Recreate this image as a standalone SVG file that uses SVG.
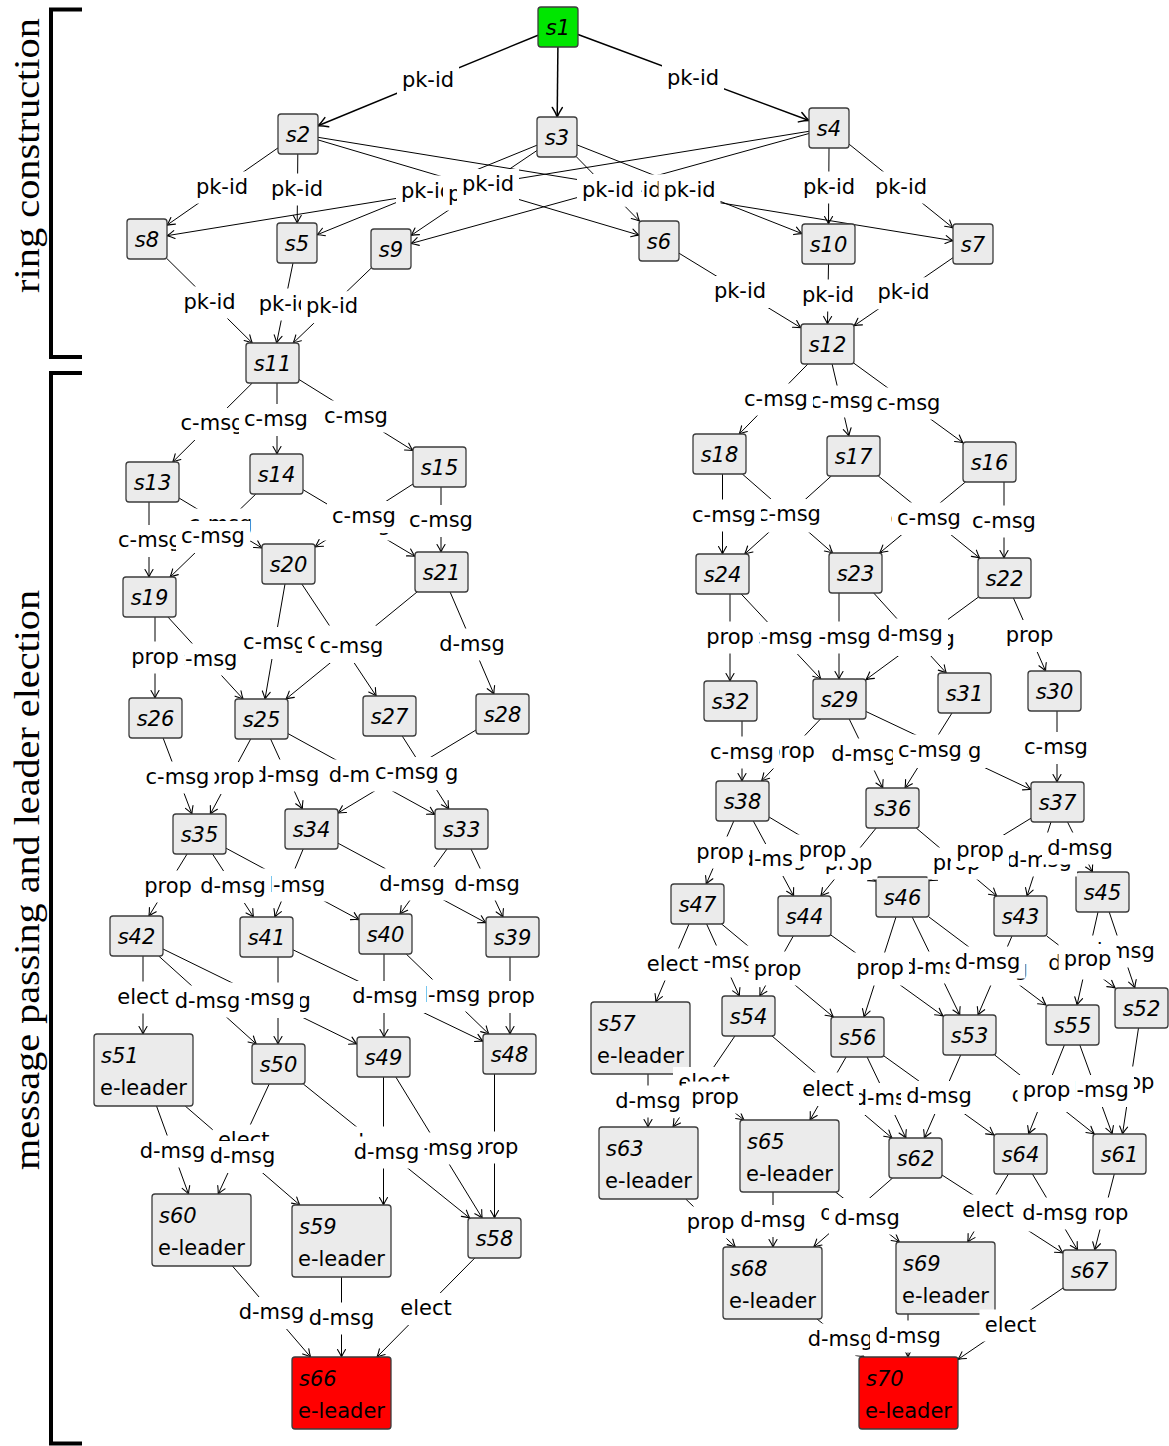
<svg xmlns="http://www.w3.org/2000/svg" width="1169" height="1446" viewBox="0 0 1169 1446">
<defs>
<style>
.n rect{fill:#ebebeb;stroke:#3c3c3c;stroke-width:1.3}
.n.g rect{fill:#00e600}
.n.r rect{fill:#ff0000}
.n text{font-family:"DejaVu Sans",sans-serif;font-size:21px;font-style:italic;text-anchor:middle;fill:#000}
.n text.a{text-anchor:start}
.n text.b{text-anchor:start;font-style:normal}
#connectors line{stroke:#000;stroke-width:1;fill:none;marker-end:url(#a)}
#connectors line.t{stroke-width:1.5;marker-end:url(#b)}
#labels rect{fill:#fff}
#labels text{font-family:"DejaVu Sans",sans-serif;font-size:21px;text-anchor:middle;fill:#000}
#labels rect.pk{width:62px;height:32px}
#labels rect.c{width:74px;height:32px}
#labels rect.d{width:76px;height:32px}
#labels rect.p{width:58px;height:32px}
#labels rect.e{width:62px;height:32px}
.side{font-family:"Liberation Serif",serif;font-size:35px;text-anchor:middle}
</style>
<marker id="a" viewBox="-10 -6 12 12" refX="0" refY="0" markerWidth="12" markerHeight="12" markerUnits="userSpaceOnUse" orient="auto"><path d="M-7.5,-4 Q-3,-1.2 0,0 Q-3,1.2 -7.5,4" fill="none" stroke="#000" stroke-width="1.1" stroke-linecap="round"/></marker>
<marker id="b" viewBox="-12 -7 14 14" refX="0" refY="0" markerWidth="14" markerHeight="14" markerUnits="userSpaceOnUse" orient="auto"><path d="M-9.5,-5 Q-4,-1.5 0,0 Q-4,1.5 -9.5,5" fill="none" stroke="#000" stroke-width="1.5" stroke-linecap="round"/></marker>
</defs>
<rect width="1169" height="1446" fill="#fff"/>
<g id="brackets" fill="none" stroke="#000" stroke-width="4">
<path d="M82,9.5 H51 V357 H82"/>
<path d="M82,373 H51 V1443.5 H82"/>
</g>
<text class="side" transform="translate(39,155.5) rotate(-90)" textLength="275" lengthAdjust="spacingAndGlyphs">ring construction</text>
<text class="side" transform="translate(39,880) rotate(-90)" textLength="580" lengthAdjust="spacingAndGlyphs">message passing and leader election</text>
<g id="connectors">
<line class="t" x1="538" y1="35.2" x2="318" y2="125.8"/>
<line class="t" x1="557.9" y1="47" x2="557.2" y2="117"/>
<line class="t" x1="578" y1="34.5" x2="809" y2="120.5"/>
<line x1="278" y1="147.9" x2="167" y2="225.1"/>
<line x1="297.8" y1="154" x2="297.2" y2="223"/>
<line x1="318" y1="139.9" x2="639" y2="235.1"/>
<line x1="318" y1="137.3" x2="953" y2="240.7"/>
<line x1="537" y1="145.2" x2="317" y2="234.8"/>
<line x1="537" y1="150.5" x2="411" y2="235.5"/>
<line x1="576.6" y1="157" x2="639.4" y2="221"/>
<line x1="577" y1="144.9" x2="802" y2="233.6"/>
<line x1="809" y1="131.3" x2="167" y2="235.7"/>
<line x1="809" y1="133.5" x2="411" y2="243.5"/>
<line x1="829" y1="148" x2="828.5" y2="224"/>
<line x1="849" y1="144.1" x2="953" y2="227.9"/>
<line x1="167" y1="258.7" x2="252.3" y2="343"/>
<line x1="293" y1="263" x2="276.6" y2="343"/>
<line x1="371" y1="268.3" x2="293.2" y2="343"/>
<line x1="679" y1="253.2" x2="801" y2="327.8"/>
<line x1="828.5" y1="264" x2="827.5" y2="324"/>
<line x1="953" y1="257.7" x2="854" y2="325.8"/>
<line x1="252.3" y1="383" x2="172.7" y2="462"/>
<line x1="277" y1="383" x2="277" y2="454"/>
<line x1="299" y1="379.5" x2="413" y2="450.5"/>
<line x1="149" y1="502" x2="149" y2="577"/>
<line x1="179" y1="498" x2="262" y2="548"/>
<line x1="255.9" y1="494" x2="170.1" y2="577"/>
<line x1="303" y1="489.7" x2="415" y2="556.3"/>
<line x1="413" y1="484" x2="315" y2="547"/>
<line x1="441" y1="487" x2="441" y2="552"/>
<line x1="155" y1="617" x2="155" y2="698"/>
<line x1="167.9" y1="617" x2="243.1" y2="699"/>
<line x1="285" y1="584" x2="265" y2="699"/>
<line x1="301.8" y1="584" x2="376.2" y2="696"/>
<line x1="417" y1="592" x2="286" y2="699"/>
<line x1="450.1" y1="592" x2="493.9" y2="694"/>
<line x1="163.1" y1="738" x2="191.9" y2="814"/>
<line x1="250.7" y1="739" x2="210.3" y2="814"/>
<line x1="270.6" y1="739" x2="302.4" y2="809"/>
<line x1="288" y1="733.6" x2="435" y2="814.4"/>
<line x1="402.2" y1="736" x2="448.8" y2="809"/>
<line x1="476" y1="730" x2="338" y2="813"/>
<line x1="187.1" y1="854" x2="148.9" y2="916"/>
<line x1="212.5" y1="854" x2="253.5" y2="917"/>
<line x1="226" y1="848.2" x2="359" y2="919.7"/>
<line x1="303.2" y1="849" x2="274.8" y2="917"/>
<line x1="338" y1="843.2" x2="486" y2="922.8"/>
<line x1="447" y1="849" x2="400" y2="914"/>
<line x1="471" y1="849" x2="503" y2="917"/>
<line x1="143" y1="956" x2="143" y2="1034"/>
<line x1="158.7" y1="956" x2="256.3" y2="1044"/>
<line x1="163" y1="949" x2="357" y2="1044"/>
<line x1="278" y1="957" x2="278" y2="1044"/>
<line x1="293" y1="949.8" x2="483" y2="1041.2"/>
<line x1="384" y1="954" x2="384" y2="1037"/>
<line x1="406.2" y1="954" x2="488.8" y2="1034"/>
<line x1="510" y1="957" x2="510" y2="1034"/>
<line x1="156.5" y1="1106" x2="188.5" y2="1194"/>
<line x1="185.2" y1="1106" x2="299.8" y2="1205"/>
<line x1="269.2" y1="1084" x2="218.2" y2="1194"/>
<line x1="303.3" y1="1084" x2="469.7" y2="1218"/>
<line x1="383.5" y1="1077" x2="383.5" y2="1205"/>
<line x1="395.8" y1="1077" x2="482.2" y2="1218"/>
<line x1="494.5" y1="1074" x2="494.5" y2="1218"/>
<line x1="232.4" y1="1266" x2="310.6" y2="1357"/>
<line x1="341.5" y1="1277" x2="341.5" y2="1357"/>
<line x1="474.8" y1="1258" x2="377" y2="1357"/>
<line x1="807.9" y1="364" x2="739.2" y2="434"/>
<line x1="832.1" y1="364" x2="848.9" y2="436"/>
<line x1="854" y1="363.3" x2="963" y2="442.7"/>
<line x1="722.5" y1="474" x2="722.5" y2="554"/>
<line x1="742.3" y1="474" x2="832.7" y2="553"/>
<line x1="831.3" y1="476" x2="744.7" y2="554"/>
<line x1="878.3" y1="476" x2="979.7" y2="558"/>
<line x1="965.4" y1="482" x2="879.6" y2="553"/>
<line x1="1004" y1="482" x2="1004" y2="558"/>
<line x1="730" y1="594" x2="730" y2="681"/>
<line x1="741.2" y1="594" x2="820.8" y2="679"/>
<line x1="839" y1="593" x2="839" y2="679"/>
<line x1="873.7" y1="593" x2="946.3" y2="673"/>
<line x1="978" y1="597.4" x2="866" y2="679.6"/>
<line x1="1013.4" y1="598" x2="1045.6" y2="671"/>
<line x1="742" y1="721" x2="742" y2="781"/>
<line x1="820.5" y1="719" x2="761.5" y2="781"/>
<line x1="849.2" y1="719" x2="882.8" y2="788"/>
<line x1="866" y1="711.5" x2="1031" y2="789.5"/>
<line x1="952" y1="713" x2="905" y2="788"/>
<line x1="1057" y1="711" x2="1057" y2="782"/>
<line x1="733.8" y1="821" x2="706.2" y2="884"/>
<line x1="753.3" y1="821" x2="793.7" y2="896"/>
<line x1="769" y1="817" x2="876" y2="881.1"/>
<line x1="876.2" y1="828" x2="820.8" y2="896"/>
<line x1="916.2" y1="828" x2="996.8" y2="896"/>
<line x1="1031" y1="818.2" x2="929" y2="880.8"/>
<line x1="1051" y1="822" x2="1027" y2="896"/>
<line x1="1067.5" y1="822" x2="1092.5" y2="872"/>
<line x1="689" y1="924" x2="655.8" y2="1002"/>
<line x1="706.6" y1="924" x2="739.4" y2="996"/>
<line x1="721.6" y1="924" x2="833.4" y2="1017"/>
<line x1="793.3" y1="936" x2="759.7" y2="996"/>
<line x1="831" y1="935.1" x2="943" y2="1015.9"/>
<line x1="896" y1="917" x2="864" y2="1017"/>
<line x1="912.2" y1="917" x2="959.8" y2="1015"/>
<line x1="929" y1="917" x2="1046" y2="1005"/>
<line x1="1012" y1="936" x2="978" y2="1015"/>
<line x1="1046.7" y1="936" x2="1115.2" y2="988"/>
<line x1="1098" y1="912" x2="1077" y2="1005"/>
<line x1="1109.2" y1="912" x2="1134.8" y2="988"/>
<line x1="648" y1="1074" x2="648" y2="1127"/>
<line x1="686" y1="1074" x2="744" y2="1120"/>
<line x1="734.9" y1="1036" x2="673" y2="1127"/>
<line x1="772" y1="1036" x2="892" y2="1138"/>
<line x1="846.1" y1="1057" x2="810" y2="1120"/>
<line x1="867.1" y1="1057" x2="905.9" y2="1138"/>
<line x1="884" y1="1056" x2="994" y2="1135"/>
<line x1="960.7" y1="1055" x2="924.3" y2="1138"/>
<line x1="994.7" y1="1055" x2="1094.3" y2="1134"/>
<line x1="1064.4" y1="1045" x2="1028.6" y2="1134"/>
<line x1="1079.8" y1="1045" x2="1112.2" y2="1134"/>
<line x1="1138.5" y1="1028" x2="1122.5" y2="1134"/>
<line x1="685.7" y1="1199" x2="735.3" y2="1247"/>
<line x1="773" y1="1192" x2="773" y2="1247"/>
<line x1="892.6" y1="1178" x2="813.7" y2="1247"/>
<line x1="835.5" y1="1192" x2="899.5" y2="1242"/>
<line x1="1008.4" y1="1174" x2="967.7" y2="1242"/>
<line x1="942" y1="1175" x2="1063" y2="1253"/>
<line x1="1032.4" y1="1174" x2="1077.6" y2="1250"/>
<line x1="1114.3" y1="1174" x2="1094.7" y2="1250"/>
<line x1="817" y1="1319" x2="864" y2="1357"/>
<line x1="908" y1="1313" x2="908" y2="1357"/>
<line x1="1063" y1="1288" x2="958" y2="1359.4"/>
</g>
<g id="nodes">
<g id="s1" class="n g"><rect x="538" y="7" width="40" height="40" rx="3"/><text x="558" y="35">s1</text></g>
<g id="s2" class="n"><rect x="278" y="114" width="40" height="40" rx="3"/><text x="298" y="142">s2</text></g>
<g id="s3" class="n"><rect x="537" y="117" width="40" height="40" rx="3"/><text x="557" y="145">s3</text></g>
<g id="s4" class="n"><rect x="809" y="108" width="40" height="40" rx="3"/><text x="829" y="136">s4</text></g>
<g id="s8" class="n"><rect x="127" y="219" width="40" height="40" rx="3"/><text x="147" y="247">s8</text></g>
<g id="s5" class="n"><rect x="277" y="223" width="40" height="40" rx="3"/><text x="297" y="251">s5</text></g>
<g id="s9" class="n"><rect x="371" y="229" width="40" height="40" rx="3"/><text x="391" y="257">s9</text></g>
<g id="s6" class="n"><rect x="639" y="221" width="40" height="40" rx="3"/><text x="659" y="249">s6</text></g>
<g id="s10" class="n"><rect x="802" y="224" width="53" height="40" rx="3"/><text x="828.5" y="252">s10</text></g>
<g id="s7" class="n"><rect x="953" y="224" width="40" height="40" rx="3"/><text x="973" y="252">s7</text></g>
<g id="s11" class="n"><rect x="246" y="343" width="53" height="40" rx="3"/><text x="272.5" y="371">s11</text></g>
<g id="s12" class="n"><rect x="801" y="324" width="53" height="40" rx="3"/><text x="827.5" y="352">s12</text></g>
<g id="s13" class="n"><rect x="126" y="462" width="53" height="40" rx="3"/><text x="152.5" y="490">s13</text></g>
<g id="s14" class="n"><rect x="250" y="454" width="53" height="40" rx="3"/><text x="276.5" y="482">s14</text></g>
<g id="s15" class="n"><rect x="413" y="447" width="53" height="40" rx="3"/><text x="439.5" y="475">s15</text></g>
<g id="s20" class="n"><rect x="262" y="544" width="53" height="40" rx="3"/><text x="288.5" y="572">s20</text></g>
<g id="s21" class="n"><rect x="415" y="552" width="53" height="40" rx="3"/><text x="441.5" y="580">s21</text></g>
<g id="s19" class="n"><rect x="123" y="577" width="53" height="40" rx="3"/><text x="149.5" y="605">s19</text></g>
<g id="s26" class="n"><rect x="129" y="698" width="53" height="40" rx="3"/><text x="155.5" y="726">s26</text></g>
<g id="s25" class="n"><rect x="235" y="699" width="53" height="40" rx="3"/><text x="261.5" y="727">s25</text></g>
<g id="s27" class="n"><rect x="363" y="696" width="53" height="40" rx="3"/><text x="389.5" y="724">s27</text></g>
<g id="s28" class="n"><rect x="476" y="694" width="53" height="40" rx="3"/><text x="502.5" y="722">s28</text></g>
<g id="s35" class="n"><rect x="173" y="814" width="53" height="40" rx="3"/><text x="199.5" y="842">s35</text></g>
<g id="s34" class="n"><rect x="285" y="809" width="53" height="40" rx="3"/><text x="311.5" y="837">s34</text></g>
<g id="s33" class="n"><rect x="435" y="809" width="53" height="40" rx="3"/><text x="461.5" y="837">s33</text></g>
<g id="s42" class="n"><rect x="110" y="916" width="53" height="40" rx="3"/><text x="136.5" y="944">s42</text></g>
<g id="s41" class="n"><rect x="240" y="917" width="53" height="40" rx="3"/><text x="266.5" y="945">s41</text></g>
<g id="s40" class="n"><rect x="359" y="914" width="53" height="40" rx="3"/><text x="385.5" y="942">s40</text></g>
<g id="s39" class="n"><rect x="486" y="917" width="53" height="40" rx="3"/><text x="512.5" y="945">s39</text></g>
<g id="s51" class="n"><rect x="94" y="1034" width="99" height="72" rx="3"/><text class="a" x="101" y="1063">s51</text><text class="b" x="100" y="1095">e-leader</text></g>
<g id="s50" class="n"><rect x="252" y="1044" width="53" height="40" rx="3"/><text x="278.5" y="1072">s50</text></g>
<g id="s49" class="n"><rect x="357" y="1037" width="53" height="40" rx="3"/><text x="383.5" y="1065">s49</text></g>
<g id="s48" class="n"><rect x="483" y="1034" width="53" height="40" rx="3"/><text x="509.5" y="1062">s48</text></g>
<g id="s60" class="n"><rect x="152" y="1194" width="99" height="72" rx="3"/><text class="a" x="159" y="1223">s60</text><text class="b" x="158" y="1255">e-leader</text></g>
<g id="s59" class="n"><rect x="292" y="1205" width="99" height="72" rx="3"/><text class="a" x="299" y="1234">s59</text><text class="b" x="298" y="1266">e-leader</text></g>
<g id="s58" class="n"><rect x="468" y="1218" width="53" height="40" rx="3"/><text x="494.5" y="1246">s58</text></g>
<g id="s66" class="n r"><rect x="292" y="1357" width="99" height="72" rx="3"/><text class="a" x="299" y="1386">s66</text><text class="b" x="298" y="1418">e-leader</text></g>
<g id="s18" class="n"><rect x="693" y="434" width="53" height="40" rx="3"/><text x="719.5" y="462">s18</text></g>
<g id="s17" class="n"><rect x="827" y="436" width="53" height="40" rx="3"/><text x="853.5" y="464">s17</text></g>
<g id="s16" class="n"><rect x="963" y="442" width="53" height="40" rx="3"/><text x="989.5" y="470">s16</text></g>
<g id="s24" class="n"><rect x="696" y="554" width="53" height="40" rx="3"/><text x="722.5" y="582">s24</text></g>
<g id="s23" class="n"><rect x="829" y="553" width="53" height="40" rx="3"/><text x="855.5" y="581">s23</text></g>
<g id="s22" class="n"><rect x="978" y="558" width="53" height="40" rx="3"/><text x="1004.5" y="586">s22</text></g>
<g id="s32" class="n"><rect x="704" y="681" width="53" height="40" rx="3"/><text x="730.5" y="709">s32</text></g>
<g id="s29" class="n"><rect x="813" y="679" width="53" height="40" rx="3"/><text x="839.5" y="707">s29</text></g>
<g id="s31" class="n"><rect x="938" y="673" width="53" height="40" rx="3"/><text x="964.5" y="701">s31</text></g>
<g id="s30" class="n"><rect x="1028" y="671" width="53" height="40" rx="3"/><text x="1054.5" y="699">s30</text></g>
<g id="s38" class="n"><rect x="716" y="781" width="53" height="40" rx="3"/><text x="742.5" y="809">s38</text></g>
<g id="s36" class="n"><rect x="866" y="788" width="53" height="40" rx="3"/><text x="892.5" y="816">s36</text></g>
<g id="s37" class="n"><rect x="1031" y="782" width="53" height="40" rx="3"/><text x="1057.5" y="810">s37</text></g>
<g id="s47" class="n"><rect x="671" y="884" width="53" height="40" rx="3"/><text x="697.5" y="912">s47</text></g>
<g id="s44" class="n"><rect x="778" y="896" width="53" height="40" rx="3"/><text x="804.5" y="924">s44</text></g>
<g id="s46" class="n"><rect x="876" y="877" width="53" height="40" rx="3"/><text x="902.5" y="905">s46</text></g>
<g id="s43" class="n"><rect x="994" y="896" width="53" height="40" rx="3"/><text x="1020.5" y="924">s43</text></g>
<g id="s45" class="n"><rect x="1076" y="872" width="53" height="40" rx="3"/><text x="1102.5" y="900">s45</text></g>
<g id="s57" class="n"><rect x="591" y="1002" width="99" height="72" rx="3"/><text class="a" x="598" y="1031">s57</text><text class="b" x="597" y="1063">e-leader</text></g>
<g id="s54" class="n"><rect x="722" y="996" width="53" height="40" rx="3"/><text x="748.5" y="1024">s54</text></g>
<g id="s56" class="n"><rect x="831" y="1017" width="53" height="40" rx="3"/><text x="857.5" y="1045">s56</text></g>
<g id="s53" class="n"><rect x="943" y="1015" width="53" height="40" rx="3"/><text x="969.5" y="1043">s53</text></g>
<g id="s55" class="n"><rect x="1046" y="1005" width="53" height="40" rx="3"/><text x="1072.5" y="1033">s55</text></g>
<g id="s52" class="n"><rect x="1115" y="988" width="53" height="40" rx="3"/><text x="1141.5" y="1016">s52</text></g>
<g id="s63" class="n"><rect x="599" y="1127" width="99" height="72" rx="3"/><text class="a" x="606" y="1156">s63</text><text class="b" x="605" y="1188">e-leader</text></g>
<g id="s65" class="n"><rect x="740" y="1120" width="99" height="72" rx="3"/><text class="a" x="747" y="1149">s65</text><text class="b" x="746" y="1181">e-leader</text></g>
<g id="s62" class="n"><rect x="889" y="1138" width="53" height="40" rx="3"/><text x="915.5" y="1166">s62</text></g>
<g id="s64" class="n"><rect x="994" y="1134" width="53" height="40" rx="3"/><text x="1020.5" y="1162">s64</text></g>
<g id="s61" class="n"><rect x="1093" y="1134" width="53" height="40" rx="3"/><text x="1119.5" y="1162">s61</text></g>
<g id="s68" class="n"><rect x="723" y="1247" width="99" height="72" rx="3"/><text class="a" x="730" y="1276">s68</text><text class="b" x="729" y="1308">e-leader</text></g>
<g id="s69" class="n"><rect x="896" y="1242" width="99" height="72" rx="3"/><text class="a" x="903" y="1271">s69</text><text class="b" x="902" y="1303">e-leader</text></g>
<g id="s67" class="n"><rect x="1063" y="1250" width="53" height="40" rx="3"/><text x="1089.5" y="1278">s67</text></g>
<g id="s70" class="n r"><rect x="859" y="1357" width="99" height="72" rx="3"/><text class="a" x="866" y="1386">s70</text><text class="b" x="865" y="1418">e-leader</text></g>
</g>
<g id="labels">
<rect class="pk" x="447.5" y="173"/><text x="478.5" y="195">pk-id</text>
<rect class="pk" x="604.5" y="174.5"/><text x="635.5" y="196.5">pk-id</text>
<rect class="pk" x="396" y="175.5"/><text x="427" y="197.5">pk-id</text>
<rect class="pk" x="443" y="178.5"/><text x="474" y="200.5">pk-id</text>
<rect class="pk" x="457" y="169"/><text x="488" y="191">pk-id</text>
<rect class="pk" x="579" y="174"/><text x="610" y="196">pk-id</text>
<rect class="pk" x="577" y="174.5"/><text x="608" y="196.5">pk-id</text>
<rect class="pk" x="658.5" y="174.5"/><text x="689.5" y="196.5">pk-id</text>
<rect class="pk" x="397" y="64.5"/><text x="428" y="86.5">pk-id</text>
<rect class="pk" x="662" y="62.5"/><text x="693" y="84.5">pk-id</text>
<rect class="pk" x="191" y="171.5"/><text x="222" y="193.5">pk-id</text>
<rect class="pk" x="266" y="173.5"/><text x="297" y="195.5">pk-id</text>
<rect class="pk" x="798" y="171.5"/><text x="829" y="193.5">pk-id</text>
<rect class="pk" x="870" y="171.5"/><text x="901" y="193.5">pk-id</text>
<rect class="pk" x="178.6" y="286.5"/><text x="209.6" y="308.5">pk-id</text>
<rect class="pk" x="253.8" y="288.5"/><text x="284.8" y="310.5">pk-id</text>
<rect class="pk" x="301" y="291.2"/><text x="332" y="313.2">pk-id</text>
<rect class="pk" x="709" y="276"/><text x="740" y="298">pk-id</text>
<rect class="pk" x="797" y="279.5"/><text x="828" y="301.5">pk-id</text>
<rect class="pk" x="872.5" y="277.3"/><text x="903.5" y="299.3">pk-id</text>
<rect class="c" x="175.5" y="408"/><text x="212.5" y="430">c-msg</text>
<rect class="c" x="239" y="404"/><text x="276" y="426">c-msg</text>
<rect class="c" x="319" y="400.5"/><text x="356" y="422.5">c-msg</text>
<rect class="c" x="183.5" y="508.5"/><text x="220.5" y="530.5">c-msg</text>
<rect class="c" x="113" y="525"/><text x="150" y="547">c-msg</text>
<rect class="c" x="176" y="521"/><text x="213" y="543">c-msg</text>
<rect class="c" x="322" y="508.5"/><text x="359" y="530.5">c-msg</text>
<rect class="c" x="327" y="501"/><text x="364" y="523">c-msg</text>
<rect class="c" x="404" y="505"/><text x="441" y="527">c-msg</text>
<rect class="c" x="168.5" y="643.5"/><text x="205.5" y="665.5">c-msg</text>
<rect class="p" x="126" y="641.5"/><text x="155" y="663.5">prop</text>
<rect class="c" x="238" y="627"/><text x="275" y="649">c-msg</text>
<rect class="c" x="302" y="625.5"/><text x="339" y="647.5">c-msg</text>
<rect class="c" x="314.5" y="631"/><text x="351.5" y="653">c-msg</text>
<rect class="d" x="434" y="628.5"/><text x="472" y="650.5">d-msg</text>
<rect class="d" x="248.5" y="759.5"/><text x="286.5" y="781.5">d-msg</text>
<rect class="p" x="201.5" y="762"/><text x="230.5" y="784">prop</text>
<rect class="c" x="140.5" y="761.5"/><text x="177.5" y="783.5">c-msg</text>
<rect class="d" x="323.5" y="759.5"/><text x="361.5" y="781.5">d-msg</text>
<rect class="d" x="387.5" y="758"/><text x="425.5" y="780">d-msg</text>
<rect class="c" x="370" y="757"/><text x="407" y="779">c-msg</text>
<rect class="d" x="251" y="868.5"/><text x="289" y="890.5">d-msg</text>
<rect class="d" x="254.5" y="869.5"/><text x="292.5" y="891.5">d-msg</text>
<rect class="d" x="195" y="871"/><text x="233" y="893">d-msg</text>
<rect class="p" x="139" y="870.5"/><text x="168" y="892.5">prop</text>
<rect class="d" x="385.5" y="867"/><text x="423.5" y="889">d-msg</text>
<rect class="d" x="374" y="868.5"/><text x="412" y="890.5">d-msg</text>
<rect class="d" x="449" y="868.5"/><text x="487" y="890.5">d-msg</text>
<rect class="d" x="240" y="986"/><text x="278" y="1008">d-msg</text>
<rect class="d" x="224" y="982.5"/><text x="262" y="1004.5">d-msg</text>
<rect class="d" x="169.5" y="985.5"/><text x="207.5" y="1007.5">d-msg</text>
<rect class="e" x="112" y="981.5"/><text x="143" y="1003.5">elect</text>
<rect class="d" x="409.5" y="979.5"/><text x="447.5" y="1001.5">d-msg</text>
<rect class="d" x="350" y="981"/><text x="388" y="1003">d-msg</text>
<rect class="d" x="347" y="981"/><text x="385" y="1003">d-msg</text>
<rect class="p" x="482" y="981"/><text x="511" y="1003">prop</text>
<rect class="d" x="134.5" y="1135.5"/><text x="172.5" y="1157.5">d-msg</text>
<rect class="e" x="212.7" y="1124.5"/><text x="243.7" y="1146.5">elect</text>
<rect class="d" x="204.5" y="1141"/><text x="242.5" y="1163">d-msg</text>
<rect class="p" x="465.5" y="1131.5"/><text x="494.5" y="1153.5">prop</text>
<rect class="d" x="402" y="1132.5"/><text x="440" y="1154.5">d-msg</text>
<rect class="d" x="345.5" y="1126.5"/><text x="383.5" y="1148.5">d-msg</text>
<rect class="d" x="348.5" y="1136.5"/><text x="386.5" y="1158.5">d-msg</text>
<rect class="d" x="233.5" y="1297"/><text x="271.5" y="1319">d-msg</text>
<rect class="d" x="303.5" y="1302.5"/><text x="341.5" y="1324.5">d-msg</text>
<rect class="e" x="395" y="1293"/><text x="426" y="1315">elect</text>
<rect class="c" x="805" y="385.5"/><text x="842" y="407.5">c-msg</text>
<rect class="c" x="739" y="383.5"/><text x="776" y="405.5">c-msg</text>
<rect class="c" x="871.5" y="387.5"/><text x="908.5" y="409.5">c-msg</text>
<rect class="c" x="752" y="500.5"/><text x="789" y="522.5">c-msg</text>
<rect class="c" x="752" y="499"/><text x="789" y="521">c-msg</text>
<rect class="c" x="687" y="499.5"/><text x="724" y="521.5">c-msg</text>
<rect class="c" x="885.5" y="503"/><text x="922.5" y="525">c-msg</text>
<rect class="c" x="892" y="502.5"/><text x="929" y="524.5">c-msg</text>
<rect class="c" x="967" y="505.5"/><text x="1004" y="527.5">c-msg</text>
<rect class="c" x="802" y="621.5"/><text x="839" y="643.5">c-msg</text>
<rect class="c" x="744" y="622"/><text x="781" y="644">c-msg</text>
<rect class="p" x="701" y="621.5"/><text x="730" y="643.5">prop</text>
<rect class="d" x="884" y="624"/><text x="922" y="646">d-msg</text>
<rect class="d" x="872" y="618.5"/><text x="910" y="640.5">d-msg</text>
<rect class="p" x="1000.5" y="620"/><text x="1029.5" y="642">prop</text>
<rect class="p" x="762" y="735.5"/><text x="791" y="757.5">prop</text>
<rect class="c" x="705" y="736.5"/><text x="742" y="758.5">c-msg</text>
<rect class="d" x="826" y="738.5"/><text x="864" y="760.5">d-msg</text>
<rect class="d" x="910.5" y="736"/><text x="948.5" y="758">d-msg</text>
<rect class="c" x="893" y="734.5"/><text x="930" y="756.5">c-msg</text>
<rect class="c" x="1019" y="732"/><text x="1056" y="754">c-msg</text>
<rect class="p" x="819.5" y="847.5"/><text x="848.5" y="869.5">prop</text>
<rect class="d" x="735.5" y="844"/><text x="773.5" y="866">d-msg</text>
<rect class="p" x="691" y="836.5"/><text x="720" y="858.5">prop</text>
<rect class="p" x="793.5" y="834.5"/><text x="822.5" y="856.5">prop</text>
<rect class="p" x="927.5" y="847.5"/><text x="956.5" y="869.5">prop</text>
<rect class="d" x="1001" y="844.5"/><text x="1039" y="866.5">d-msg</text>
<rect class="p" x="951" y="835"/><text x="980" y="857">prop</text>
<rect class="d" x="1042" y="832.5"/><text x="1080" y="854.5">d-msg</text>
<rect class="d" x="849" y="953.5"/><text x="887" y="975.5">d-msg</text>
<rect class="d" x="957" y="953.5"/><text x="995" y="975.5">d-msg</text>
<rect class="p" x="747.5" y="951.5"/><text x="776.5" y="973.5">prop</text>
<rect class="d" x="685" y="945.5"/><text x="723" y="967.5">d-msg</text>
<rect class="e" x="641.5" y="948.5"/><text x="672.5" y="970.5">elect</text>
<rect class="p" x="748.5" y="953.5"/><text x="777.5" y="975.5">prop</text>
<rect class="d" x="898" y="951.5"/><text x="936" y="973.5">d-msg</text>
<rect class="p" x="851" y="952.5"/><text x="880" y="974.5">prop</text>
<rect class="d" x="949.5" y="946.5"/><text x="987.5" y="968.5">d-msg</text>
<rect class="d" x="1043" y="947.5"/><text x="1081" y="969.5">d-msg</text>
<rect class="d" x="1084" y="935.5"/><text x="1122" y="957.5">d-msg</text>
<rect class="p" x="1058.5" y="944"/><text x="1087.5" y="966">prop</text>
<rect class="e" x="673" y="1067"/><text x="704" y="1089">elect</text>
<rect class="d" x="610" y="1085.5"/><text x="648" y="1107.5">d-msg</text>
<rect class="p" x="686" y="1081.5"/><text x="715" y="1103.5">prop</text>
<rect class="d" x="794" y="1072.5"/><text x="832" y="1094.5">d-msg</text>
<rect class="d" x="904.5" y="1082"/><text x="942.5" y="1104">d-msg</text>
<rect class="d" x="848.5" y="1083"/><text x="886.5" y="1105">d-msg</text>
<rect class="e" x="797" y="1074"/><text x="828" y="1096">elect</text>
<rect class="d" x="901" y="1081"/><text x="939" y="1103">d-msg</text>
<rect class="p" x="1101.5" y="1066.5"/><text x="1130.5" y="1088.5">prop</text>
<rect class="d" x="1006.5" y="1080"/><text x="1044.5" y="1102">d-msg</text>
<rect class="d" x="1058" y="1075"/><text x="1096" y="1097">d-msg</text>
<rect class="p" x="1017.5" y="1075"/><text x="1046.5" y="1097">prop</text>
<rect class="p" x="681.5" y="1206.5"/><text x="710.5" y="1228.5">prop</text>
<rect class="d" x="735" y="1205"/><text x="773" y="1227">d-msg</text>
<rect class="d" x="815" y="1198"/><text x="853" y="1220">d-msg</text>
<rect class="d" x="829" y="1202.5"/><text x="867" y="1224.5">d-msg</text>
<rect class="d" x="964.5" y="1199.5"/><text x="1002.5" y="1221.5">d-msg</text>
<rect class="e" x="957" y="1194.5"/><text x="988" y="1216.5">elect</text>
<rect class="p" x="1075.5" y="1197.5"/><text x="1104.5" y="1219.5">prop</text>
<rect class="d" x="1017" y="1197.5"/><text x="1055" y="1219.5">d-msg</text>
<rect class="d" x="802.5" y="1323.5"/><text x="840.5" y="1345.5">d-msg</text>
<rect class="d" x="870" y="1320.5"/><text x="908" y="1342.5">d-msg</text>
<rect class="e" x="979.5" y="1309.5"/><text x="1010.5" y="1331.5">elect</text>
</g>
</svg>
